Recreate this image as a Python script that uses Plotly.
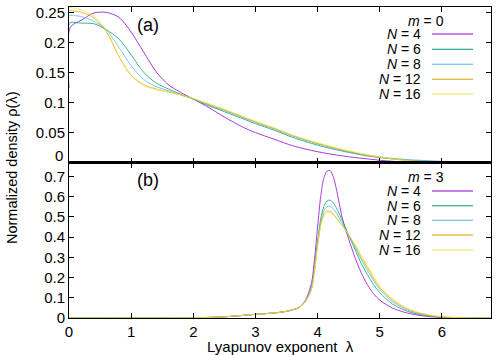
import plotly.graph_objects as go

# ---------------- data ----------------
series_names = ["4", "6", "8", "12", "16"]
colors = ["#9400d3", "#009e73", "#56b4e9", "#e69f00", "#f0e442"]

# panel (a): m = 0
lam_a = [0.0, 0.02, 0.2, 0.4, 0.6, 0.8, 1.0, 1.2, 1.4, 1.6, 1.8, 2.0, 2.2, 2.5,
         2.8, 3.0, 3.3, 3.6, 4.0, 4.4, 4.8, 5.2, 5.6, 6.0, 6.4, 6.8]
rho_a_N4 = [0.125, 0.226, 0.238, 0.250, 0.251, 0.243, 0.218, 0.185, 0.152, 0.130,
            0.117, 0.106, 0.095, 0.076, 0.059, 0.050, 0.039, 0.028, 0.018, 0.011,
            0.006, 0.002, 0.0005, 0.0, 0.0, 0.0]
rho_a_N6 = [0.230, 0.234, 0.233, 0.232, 0.222, 0.207, 0.180, 0.151, 0.133, 0.123,
            0.114, 0.106, 0.097, 0.085, 0.073, 0.065, 0.054, 0.042, 0.029, 0.019,
            0.011, 0.006, 0.003, 0.0015, 0.0003, 0.0]
rho_a_N8 = [0.246, 0.246, 0.244, 0.236, 0.222, 0.193, 0.162, 0.139, 0.127, 0.120,
            0.113, 0.106, 0.098, 0.087, 0.075, 0.067, 0.056, 0.044, 0.031, 0.020,
            0.012, 0.007, 0.004, 0.002, 0.0005, 0.0]
rho_a_N12 = [0.254, 0.254, 0.251, 0.242, 0.219, 0.178, 0.146, 0.130, 0.123, 0.118,
             0.113, 0.107, 0.099, 0.088, 0.076, 0.068, 0.057, 0.045, 0.032, 0.021,
             0.012, 0.006, 0.002, 0.0, 0.0, 0.0]
rho_a_N16 = [0.259, 0.259, 0.255, 0.245, 0.221, 0.179, 0.145, 0.129, 0.122, 0.118,
             0.113, 0.107, 0.100, 0.089, 0.077, 0.069, 0.058, 0.046, 0.033, 0.022,
             0.013, 0.006, 0.002, 0.0, 0.0, 0.0]

# panel (b): m = 3
lam_b = [0.0, 1.0, 2.0, 2.5, 3.0, 3.3, 3.5, 3.7, 3.8, 3.9, 3.95, 4.0, 4.05, 4.1,
         4.15, 4.2, 4.25, 4.3, 4.4, 4.5, 4.6, 4.7, 4.8, 4.9, 5.0, 5.2, 5.4, 5.6,
         5.8, 6.0, 6.4, 6.8]
rho_b_N4 = [0, 0, 0.001, 0.006, 0.018, 0.025, 0.033, 0.052, 0.085, 0.17, 0.29,
            0.45, 0.60, 0.69, 0.725, 0.728, 0.70, 0.64, 0.49, 0.39, 0.30, 0.225,
            0.165, 0.12, 0.088, 0.05, 0.028, 0.015, 0.007, 0.003, 0.0005, 0]
rho_b_N6 = [0, 0, 0.001, 0.006, 0.018, 0.025, 0.033, 0.052, 0.082, 0.15, 0.25,
            0.38, 0.49, 0.55, 0.578, 0.582, 0.57, 0.545, 0.48, 0.41, 0.34, 0.27,
            0.215, 0.165, 0.125, 0.07, 0.038, 0.02, 0.01, 0.004, 0.001, 0]
rho_b_N8 = [0, 0, 0.001, 0.006, 0.018, 0.025, 0.033, 0.052, 0.08, 0.145, 0.24,
            0.37, 0.47, 0.53, 0.55, 0.551, 0.54, 0.52, 0.465, 0.41, 0.35, 0.29,
            0.235, 0.185, 0.142, 0.082, 0.045, 0.024, 0.012, 0.005, 0.001, 0]
rho_b_N12 = [0, 0, 0.001, 0.006, 0.018, 0.025, 0.033, 0.052, 0.08, 0.14, 0.23,
             0.36, 0.46, 0.515, 0.529, 0.527, 0.515, 0.495, 0.455, 0.41, 0.36,
             0.30, 0.25, 0.195, 0.15, 0.09, 0.05, 0.027, 0.013, 0.005, 0.001, 0]
rho_b_N16 = [0, 0, 0.001, 0.006, 0.018, 0.025, 0.033, 0.052, 0.08, 0.14, 0.23,
             0.355, 0.455, 0.505, 0.52, 0.52, 0.51, 0.492, 0.455, 0.412, 0.365,
             0.31, 0.26, 0.205, 0.16, 0.097, 0.055, 0.03, 0.015, 0.006, 0.001, 0]

ticks_x = [0, 1, 2, 3, 4, 5, 6]
ticks_ya = [0, 0.05, 0.1, 0.15, 0.2, 0.25]
ticks_yb = [0, 0.1, 0.2, 0.3, 0.4, 0.5, 0.6, 0.7]

panel_a = [rho_a_N4, rho_a_N6, rho_a_N8, rho_a_N12, rho_a_N16]
panel_b = [rho_b_N4, rho_b_N6, rho_b_N8, rho_b_N12, rho_b_N16]

# ---------------- figure ----------------
W, H = 496, 355
ML, MR, MT, MB = 69, 5, 7, 37
PW, PH = W - ML - MR, H - MT - MB
FONT = "Liberation Sans, Arial, sans-serif"


def px(x):
    return (x - ML) / PW


def py(y):
    return (H - MB - y) / PH


fig = go.Figure()
for vals, c in zip(panel_a, colors):
    fig.add_trace(go.Scatter(x=lam_a, y=vals, mode="lines", xaxis="x", yaxis="y",
                             line=dict(color=c, width=0.9, shape="spline", smoothing=0.8),
                             opacity=0.85, showlegend=False))
for vals, c in zip(panel_b, colors):
    fig.add_trace(go.Scatter(x=lam_b, y=vals, mode="lines", xaxis="x2", yaxis="y2",
                             line=dict(color=c, width=0.9, shape="spline", smoothing=0.8),
                             opacity=0.85, showlegend=False))

axis_common = dict(showline=True, linecolor="black", linewidth=1, mirror="allticks",
                   ticks="inside", ticklen=5, tickcolor="black", tickwidth=1,
                   showgrid=False, zeroline=False,
                   tickfont=dict(family=FONT, size=15, color="black"))

fig.update_layout(
    width=W, height=H,
    margin=dict(l=ML, r=MR, t=MT, b=MB),
    paper_bgcolor="white", plot_bgcolor="white",
    xaxis=dict(domain=[0, 1], anchor="y", range=[0, 6.79], tickvals=ticks_x,
               showticklabels=False, **axis_common),
    yaxis=dict(domain=[0.5, 1], anchor="x", range=[0, 0.26], tickvals=ticks_ya,
               ticktext=["", "0.05", "0.1", "0.15", "0.2", "0.25"], **axis_common),
    xaxis2=dict(domain=[0, 1], anchor="y2", range=[0, 6.79], tickvals=ticks_x,
                ticktext=[str(t) for t in ticks_x], **axis_common),
    yaxis2=dict(domain=[0, 0.5], anchor="x2", range=[0, 0.768], tickvals=ticks_yb,
                ticktext=["0", "0.1", "0.2", "0.3", "0.4", "0.5", "0.6", "0.7"],
                **axis_common),
    font=dict(family=FONT, size=15, color="black"),
)

# thick separator between panels
fig.add_shape(type="line", xref="paper", yref="paper", x0=0, x1=1, y0=0.5, y1=0.5,
              line=dict(color="black", width=3))

ann = []
# "0" label of top panel (raised)
ann.append(dict(x=px(65), y=py(155), text="0", xanchor="right", yanchor="middle"))
# panel labels
ann.append(dict(x=px(148), y=py(25), text="(a)", xanchor="center", yanchor="middle",
                font=dict(size=18)))
ann.append(dict(x=px(148), y=py(180), text="(b)", xanchor="center", yanchor="middle",
                font=dict(size=18)))
# axis titles
ann.append(dict(x=px(280), y=py(346), text="Lyapunov exponent  λ", xanchor="center",
                yanchor="middle"))
ann.append(dict(x=px(12), y=py(168), text="Normalized density ρ(λ)", textangle=-90,
                xanchor="center", yanchor="middle", font=dict(size=14.5)))

# legends
legend_a_rows = [34, 49.3, 64.3, 79.3, 94]
legend_b_rows = [191, 205.7, 220.3, 235, 250]
LEG = dict(size=14)
ann.append(dict(x=px(426), y=py(21.5), text="<i>m</i> = 0", xanchor="center",
                yanchor="middle", font=LEG))
ann.append(dict(x=px(426), y=py(177.3), text="<i>m</i> = 3", xanchor="center",
                yanchor="middle", font=LEG))
for rows in (legend_a_rows, legend_b_rows):
    for yrow, name, c in zip(rows, series_names, colors):
        ann.append(dict(x=px(423), y=py(yrow), text=f"<i>N</i> = {name}",
                        xanchor="right", yanchor="middle", font=LEG))
        fig.add_shape(type="line", xref="paper", yref="paper",
                      x0=px(432), x1=px(473), y0=py(yrow), y1=py(yrow),
                      line=dict(color=c, width=1.1))

for a in ann:
    a.setdefault("xref", "paper")
    a.setdefault("yref", "paper")
    a.setdefault("showarrow", False)
    fnt = dict(family=FONT, size=15, color="black")
    fnt.update(a.get("font", {}))
    a["font"] = fnt
    fig.add_annotation(**a)

fig.write_html("out.html")
